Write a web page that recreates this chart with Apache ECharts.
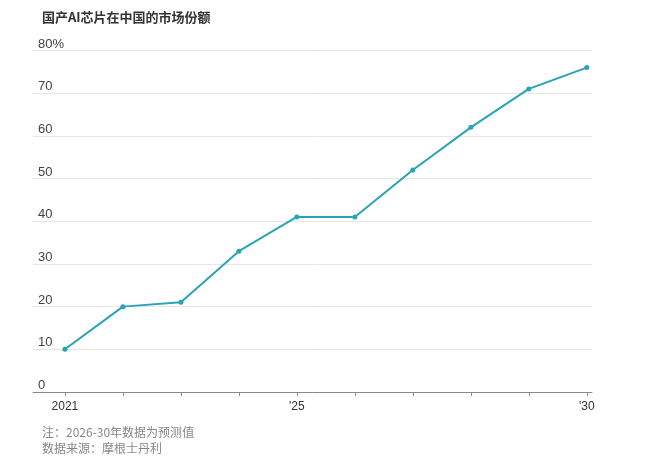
<!DOCTYPE html>
<html><head><meta charset="utf-8">
<script src="https://cdn.jsdelivr.net/npm/echarts@6/dist/echarts.min.js"></script>
<style>html,body{margin:0;padding:0;background:#fff;}#c{width:650px;height:462px;}</style>
</head><body><div id="c"></div>
<script>
const years = [2021, 2022, 2023, 2024, 2025, 2026, 2027, 2028, 2029, 2030];
const share = [10, 20, 21, 33, 41, 41, 52, 62, 71, 76];
const labelYears = [2021, 2025, 2030];
const title = '国产AI芯片在中国的市场份额';
const note1 = '注：2026-30年数据为预测值';
const note2 = '数据来源：摩根士丹利';

const chart = echarts.init(document.getElementById('c'));
chart.setOption({
  animation: false,
  backgroundColor: '#fff',
  textStyle: { fontFamily: 'Liberation Sans, Arial, Noto Sans CJK SC, sans-serif' },
  title: [
    { text: title, left: 37, top: 6, textStyle: { fontSize: 13, fontWeight: 'bold', color: '#333', fontFamily: 'Noto Sans CJK SC, sans-serif' } },
    { text: note1, left: 37, top: 421, textStyle: { fontSize: 12, fontWeight: 'normal', color: '#888', fontFamily: 'Noto Sans CJK SC, sans-serif' } },
    { text: note2, left: 37, top: 437, textStyle: { fontSize: 12, fontWeight: 'normal', color: '#888', fontFamily: 'Noto Sans CJK SC, sans-serif' } }
  ],
  grid: { left: 33, right: 58, top: 50.5, bottom: 70, containLabel: false },
  xAxis: {
    type: 'value', min: 2020.45, max: 2030.09,
    axisLine: { show: true, lineStyle: { color: '#888', width: 1 } },
    axisTick: { show: true, customValues: years, length: 4, lineStyle: { color: '#888' } },
    splitLine: { show: false },
    axisLabel: {
      customValues: labelYears, margin: 9, fontSize: 12, color: '#333',
      formatter: v => v === 2021 ? '2021' : "'" + String(v).slice(2)
    }
  },
  yAxis: {
    type: 'value', min: 0, max: 80, interval: 10,
    axisLine: { show: false }, axisTick: { show: false },
    splitLine: { lineStyle: { color: '#e6e6e6', width: 1 } },
    axisLabel: {
      inside: true, margin: 5, fontSize: 13, color: '#444', verticalAlign: 'bottom',
      padding: [0, 0, 0, 0],
      formatter: v => v === 80 ? '80%' : String(v)
    }
  },
  series: [{
    type: 'line',
    data: years.map((y, i) => [y, share[i]]),
    lineStyle: { color: '#2aa3b4', width: 2 },
    itemStyle: { color: '#2aa3b4' },
    symbol: 'circle', symbolSize: 5, showSymbol: true
  }]
});
</script></body></html>
